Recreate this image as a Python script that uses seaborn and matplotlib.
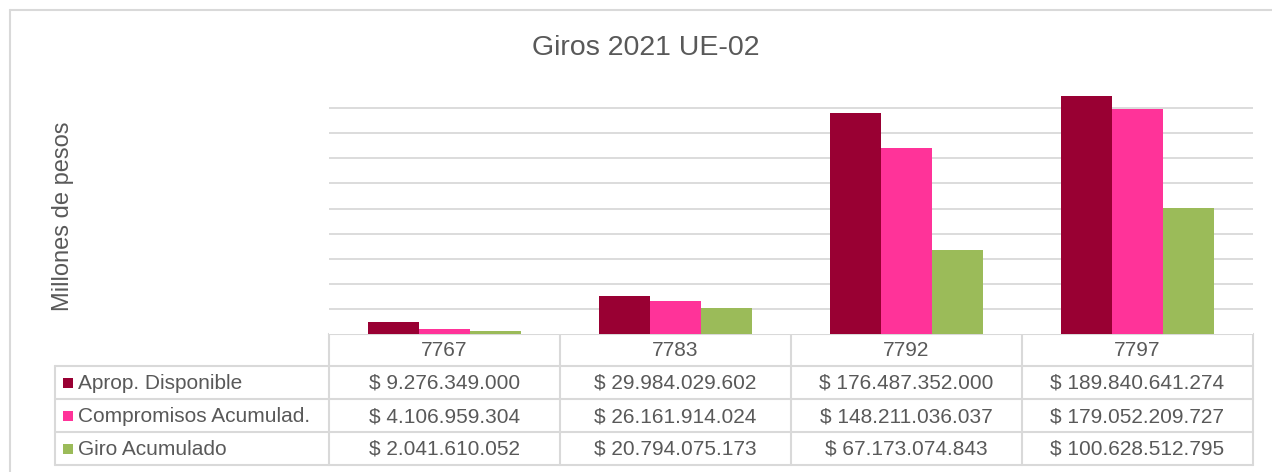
import pandas as pd
import matplotlib.pyplot as plt
import seaborn as sns
from matplotlib.lines import Line2D
from matplotlib.patches import Rectangle

# Data
categories = ['7767', '7783', '7792', '7797']
series = ['Aprop. Disponible', 'Compromisos Acumulad.', 'Giro Acumulado']
aprop = [9276349000, 29984029602, 176487352000, 189840641274]
compromisos = [4106959304, 26161914024, 148211036037, 179052209727]
giro = [2041610052, 20794075173, 67173074843, 100628512795]
colors = ['#990033', '#FF3399', '#9BBB59']

rows = []
for name, vals in zip(series, [aprop, compromisos, giro]):
    for cat, v in zip(categories, vals):
        rows.append({'Unidad': cat, 'Valor': v, 'Serie': name})
df = pd.DataFrame(rows)

sns.set_style('white')
plt.rcParams['font.family'] = ['Liberation Sans', 'DejaVu Sans']
txt = '#595959'
line_c = '#d9d9d9'

W, H = 1272, 472
fig = plt.figure(figsize=(W / 100, H / 100), dpi=100)

# plot area in pixels
px_left, px_right, px_top, px_base = 329, 1253, 83, 334
ax = fig.add_axes([px_left / W, 1 - px_base / H, (px_right - px_left) / W, (px_base - px_top) / H])
sns.barplot(data=df, x='Unidad', y='Valor', hue='Serie', order=categories, hue_order=series,
            palette=dict(zip(series, colors)), width=0.66, gap=0, legend=False, ax=ax,
            saturation=1, edgecolor='none')
ax.set_xlim(-0.5, len(categories) - 0.5)
ax.set_ylim(0, 200e9)
ax.set_yticks([i * 20e9 for i in range(1, 10)])
ax.yaxis.grid(True, color=line_c, lw=1.3)
ax.set_axisbelow(True)
ax.tick_params(left=False, bottom=False, labelleft=False, labelbottom=False)
ax.set_xlabel('')
ax.set_ylabel('')
for s in ax.spines.values():
    s.set_visible(False)

# overlay in pixel coordinates for frame, title and data table
ov = fig.add_axes([0, 0, 1, 1], zorder=-1)
ov.set_xlim(0, W)
ov.set_ylim(H, 0)
ov.axis('off')

def hline(y, x0, x1):
    ov.add_line(Line2D([x0, x1], [y, y], color=line_c, lw=1.5))

def vline(x, y0, y1):
    ov.add_line(Line2D([x, x], [y0, y1], color=line_c, lw=1.5))

# chart frame
hline(10, 10, W)
vline(10, 10, H)

ov.text(646, 48, 'Giros 2021 UE-02', ha='center', va='center', fontsize=20.5, color=txt)
ov.text(63, 216, 'Millones de pesos', ha='center', va='center', rotation=90, fontsize=17, color=txt)

# data table
col_w = (px_right - px_left) / len(categories)
row_y = [334, 366, 399, 432, 465]
tab_left = 55
hline(row_y[0], px_left, px_right)
for y in row_y[1:]:
    hline(y, tab_left, px_right)
vline(tab_left, row_y[1], row_y[-1])
for i in range(len(categories) + 1):
    vline(px_left + i * col_w, row_y[0], row_y[-1])

for i, cat in enumerate(categories):
    cx = px_left + (i + 0.5) * col_w
    ov.text(cx, (row_y[0] + row_y[1]) / 2 + 1, cat, ha='center', va='center', fontsize=15, color=txt)

for r, (name, vals, c) in enumerate(zip(series, [aprop, compromisos, giro], colors)):
    cy = (row_y[r + 1] + row_y[r + 2]) / 2
    ov.add_patch(Rectangle((63, cy - 5), 10, 10, color=c, lw=0))
    ov.text(78, cy + 1, name, ha='left', va='center', fontsize=15, color=txt)
    for i, v in enumerate(vals):
        cx = px_left + (i + 0.5) * col_w
        label = '$ ' + f'{v:,.0f}'.replace(',', '.')
        ov.text(cx, cy + 1, label, ha='center', va='center', fontsize=15, color=txt)

fig.savefig('out.png', dpi=100, facecolor='white')
